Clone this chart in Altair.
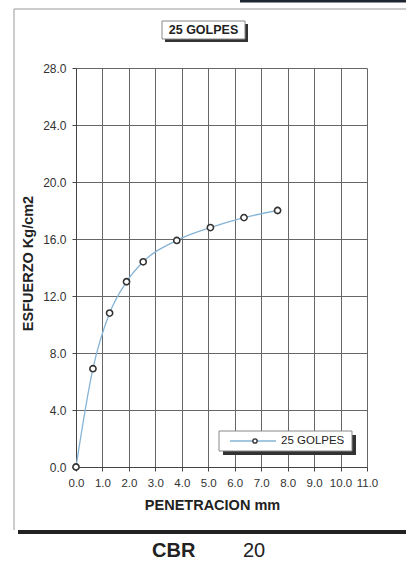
import altair as alt
import pandas as pd

# CBR test curve, 25 blows
penetracion = [0.0, 0.64, 1.27, 1.91, 2.54, 3.81, 5.08, 6.35, 7.62]
esfuerzo = [0.0, 6.9, 10.8, 13.0, 14.4, 15.9, 16.8, 17.5, 18.0]
serie = "25 GOLPES"
cbr_valor = 20

x_ticks = [float(v) for v in range(0, 12)]
y_ticks = [float(v) for v in range(0, 29, 4)]

FONT = "Liberation Sans"
W, H = 291, 399

df = pd.DataFrame({"pen": penetracion, "esf": esfuerzo})
one = pd.DataFrame({"k": [0]})

x_enc = alt.X(
    "pen:Q",
    scale=alt.Scale(domain=[0, 11], nice=False),
    axis=alt.Axis(
        values=x_ticks, format=".1f", title="PENETRACION mm",
        labelFont=FONT, labelFontSize=11.5, labelColor="#333", labelPadding=6,
        labelFlush=False, labelOverlap=False,
        titleFont=FONT, titleFontSize=14.5, titleFontWeight="bold", titleColor="#222",
        titlePadding=10, titleX=136,
        grid=True, gridColor="#666", gridWidth=1,
        domainColor="#444", tickColor="#444", tickSize=4,
    ),
)
y_enc = alt.Y(
    "esf:Q",
    scale=alt.Scale(domain=[0, 28], nice=False),
    axis=alt.Axis(
        values=y_ticks, format=".1f", title="ESFUERZO Kg/cm2",
        labelFont=FONT, labelFontSize=12, labelColor="#333", labelPadding=6,
        labelFlush=False, labelOverlap=False,
        titleFont=FONT, titleFontSize=14.5, titleFontWeight="bold", titleColor="#222",
        titlePadding=7, titleY=195,
        grid=True, gridColor="#666", gridWidth=1,
        domainColor="#444", tickColor="#444", tickSize=4,
    ),
)

curve = alt.Chart(df).mark_line(
    interpolate="monotone", color="#86b4d6", strokeWidth=1.3
).encode(x=x_enc, y=y_enc)

points = alt.Chart(df).mark_point(
    shape="circle", filled=True, fill="white", stroke="#333",
    strokeWidth=1.6, size=38, opacity=1
).encode(x=x_enc, y=y_enc)


def rule(x1, x2, y1, y2, color, width):
    return alt.Chart(one).mark_rule(color=color, strokeWidth=width).encode(
        x=alt.value(x1), x2=alt.value(x2), y=alt.value(y1), y2=alt.value(y2)
    )


def box(x1, x2, y1, y2, fill, stroke=None, sw=0):
    kw = {"fill": fill}
    if stroke:
        kw.update(stroke=stroke, strokeWidth=sw)
    return alt.Chart(one).mark_rect(**kw).encode(
        x=alt.value(x1), x2=alt.value(x2), y=alt.value(y1), y2=alt.value(y2)
    )


def label(txt, x, y, size, weight="normal", align="left"):
    return alt.Chart(one).mark_text(
        text=txt, font=FONT, fontSize=size, fontWeight=weight,
        color="#222", align=align, baseline="middle"
    ).encode(x=alt.value(x), y=alt.value(y))


# outer frame of the sheet
frame = [
    rule(-62, -62, -59, 462, "#999", 1),
    rule(-62, 330, -59, -59, "#999", 1),
    rule(-58, 330, 464, 464, "#222", 4),
    rule(164, 330, -67, -67, "#1d2530", 3),
]

# chart title box with drop shadow
title_box = [
    box(89, 172, -44, -26, "#333"),
    box(86, 169, -47, -29, "white", "#888", 1),
    label(serie, 127.5, -38, 12.5, "bold", "center"),
]

# legend box with drop shadow
legend_x1, legend_x2, legend_y1, legend_y2 = 143, 276, 363, 383
legend = [
    box(legend_x1 + 4, legend_x2 + 4, legend_y1 + 4, legend_y2 + 4, "#333"),
    box(legend_x1, legend_x2, legend_y1, legend_y2, "white", "#888", 1),
    rule(154, 200, 373, 373, "#86b4d6", 1.3),
    alt.Chart(one).mark_point(
        shape="circle", filled=True, fill="white", stroke="#333",
        strokeWidth=1.4, size=18, opacity=1
    ).encode(x=alt.value(179), y=alt.value(373)),
    label(serie, 205, 373, 11.5),
]

footer = [
    label("CBR", 76, 483, 20, "bold"),
    label(str(cbr_valor), 167, 483, 20),
]

chart = alt.layer(
    *frame, curve, points, *title_box, *legend, *footer
).properties(
    width=W, height=H,
    autosize=alt.AutoSizeParams(type="none"),
    padding={"left": 76, "top": 68, "right": 39, "bottom": 97},
    background="white",
).configure_view(stroke=None)

chart.save("out.html", embed_options={"renderer": "svg", "actions": False})
